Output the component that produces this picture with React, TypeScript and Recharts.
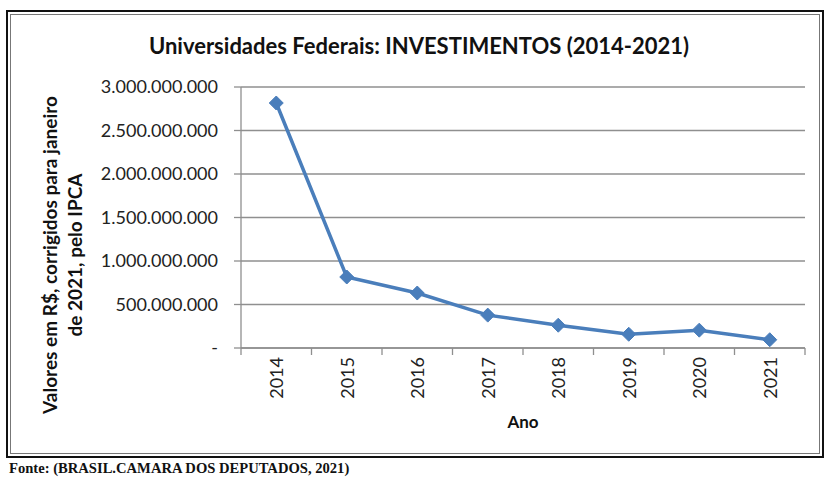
import React from 'react';
import { LineChart, Line, XAxis, YAxis, CartesianGrid } from 'recharts';

const years = ['2014', '2015', '2016', '2017', '2018', '2019', '2020', '2021'];
const investimentos = [2816000000, 816000000, 632000000, 378000000, 262000000, 158000000, 205000000, 95000000];
const yTicks = [0, 500000000, 1000000000, 1500000000, 2000000000, 2500000000, 3000000000];

const data = years.map((ano, i) => ({ ano, valor: investimentos[i] }));

const W = 826;
const H = 483;
const PLOT_LEFT = 241;
const PLOT_RIGHT = 805;
const PLOT_TOP = 87;
const PLOT_BOTTOM = 348;
const X_AXIS_H = 70;
const BAND = (PLOT_RIGHT - PLOT_LEFT) / years.length;

const GRID = '#8f8f8f';
const BLUE = '#4a7ebb';
const FONT = 'Lato, "Open Sans", sans-serif';

const formatValor = (v: number) =>
  v === 0 ? '-' : String(v).replace(/\B(?=(\d{3})+(?!\d))/g, '.');

const XTick = (props: any) => {
  const { x, y, payload, index } = props;
  const last = index === years.length - 1;
  return (
    <g>
      <line x1={x - BAND / 2} x2={x - BAND / 2} y1={y - 8} y2={y - 1} stroke={GRID} strokeWidth={1.3} />
      {last && <line x1={x + BAND / 2} x2={x + BAND / 2} y1={y - 8} y2={y - 1} stroke={GRID} strokeWidth={1.3} />}
      <text
        x={x}
        y={y + 1}
        transform={`rotate(-90, ${x}, ${y + 1})`}
        textAnchor="end"
        dominantBaseline="central"
        fontFamily={FONT}
        fontSize={18}
        fill="#222"
      >
        {payload.value}
      </text>
    </g>
  );
};

const Diamond = (props: any) => {
  const { cx, cy } = props;
  if (cx == null || cy == null) return null;
  const r = 7;
  return (
    <polygon
      points={`${cx},${cy - r} ${cx + r},${cy} ${cx},${cy + r} ${cx - r},${cy}`}
      fill={BLUE}
      stroke={BLUE}
      strokeWidth={1}
    />
  );
};

export default function App() {
  return (
    <div style={{ position: 'absolute', left: 0, top: 0, width: W, height: H, background: '#fff', overflow: 'hidden' }}>
      <div style={{ position: 'absolute', left: 6, top: 10, width: 814, height: 444, border: '2px solid #111' }} />
      <div style={{ position: 'absolute', left: 10, top: 14, width: 808, height: 438, border: '1px solid #777' }} />
      <div
        style={{
          position: 'absolute',
          left: 6,
          top: 32,
          width: 826,
          textAlign: 'center',
          fontFamily: FONT,
          fontWeight: 700,
          fontSize: 22,
          color: '#111',
        }}
      >
        Universidades Federais: INVESTIMENTOS (2014-2021)
      </div>
      <div
        style={{
          position: 'absolute',
          left: 62 - 200,
          top: 255 - 25,
          width: 400,
          height: 50,
          lineHeight: '25px',
          textAlign: 'center',
          transform: 'rotate(-90deg)',
          fontFamily: FONT,
          fontWeight: 700,
          fontSize: 19,
          color: '#111',
        }}
      >
        Valores em R$, corrigidos para janeiro
        <br />
        de 2021, pelo IPCA
      </div>
      <div
        style={{
          position: 'absolute',
          left: PLOT_LEFT,
          width: PLOT_RIGHT - PLOT_LEFT,
          top: 411,
          textAlign: 'center',
          fontFamily: FONT,
          fontWeight: 700,
          fontSize: 17,
          color: '#111',
        }}
      >
        Ano
      </div>
      <div
        style={{
          position: 'absolute',
          left: 9,
          top: 460,
          fontFamily: '"Liberation Serif", serif',
          fontWeight: 700,
          fontSize: 14.6,
          color: '#111',
        }}
      >
        Fonte: (BRASIL.CAMARA DOS DEPUTADOS, 2021)
      </div>
      <div style={{ position: 'absolute', left: 0, top: 0 }}>
        <LineChart
          width={W}
          height={H}
          data={data}
          margin={{ top: PLOT_TOP, right: W - PLOT_RIGHT, left: 0, bottom: H - PLOT_BOTTOM - X_AXIS_H }}
        >
          <CartesianGrid vertical={false} stroke={GRID} strokeWidth={1.3} />
          <XAxis
            dataKey="ano"
            height={X_AXIS_H}
            padding={{ left: BAND / 2, right: BAND / 2 }}
            axisLine={{ stroke: GRID, strokeWidth: 1.3 }}
            tickLine={false}
            interval={0}
            tick={<XTick />}
          />
          <YAxis
            width={PLOT_LEFT}
            domain={[0, 3000000000]}
            ticks={yTicks}
            interval={0}
            tickFormatter={formatValor}
            axisLine={{ stroke: GRID, strokeWidth: 1.3 }}
            tickLine={{ stroke: GRID, strokeWidth: 1.3 }}
            tickSize={7}
            tickMargin={16}
            tick={{ fontFamily: FONT, fontSize: 18, fill: '#222' }}
          />
          <Line
            type="linear"
            dataKey="valor"
            stroke={BLUE}
            strokeWidth={3.5}
            dot={<Diamond />}
            activeDot={false}
            isAnimationActive={false}
          />
        </LineChart>
      </div>
    </div>
  );
}
